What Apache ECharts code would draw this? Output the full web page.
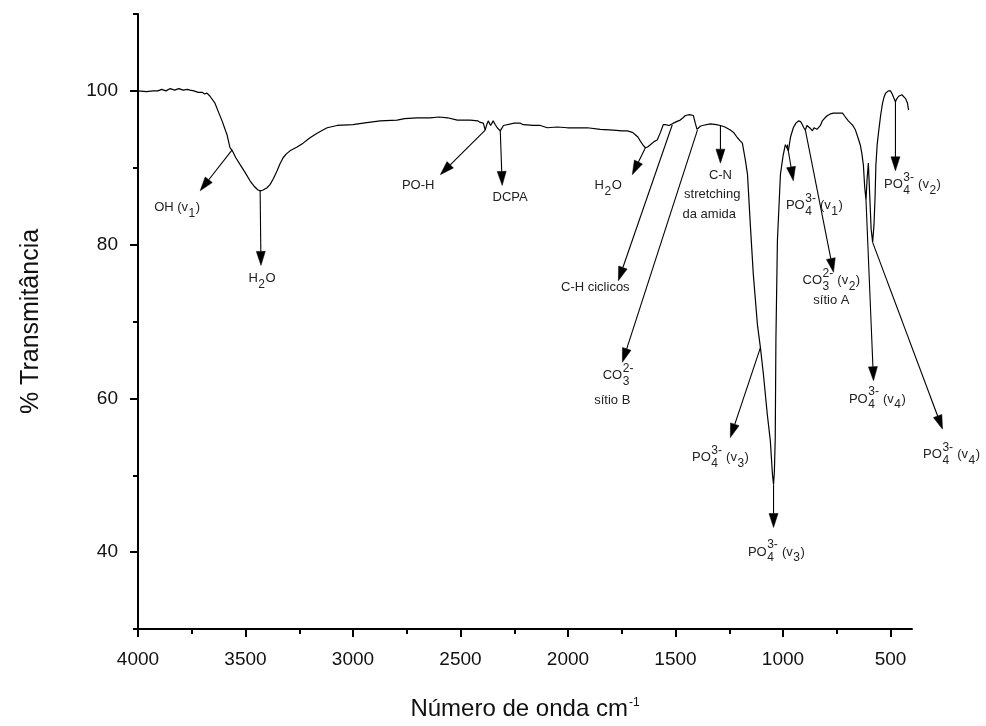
<!DOCTYPE html>
<html><head><meta charset="utf-8">
<script src="https://cdn.jsdelivr.net/npm/echarts@6/dist/echarts.min.js"></script>
<style>html,body{margin:0;padding:0;background:#fff}#c{width:986px;height:726px}</style>
</head><body><div id="c"></div>
<script>
// ---- data ----
const wavenumber = [4000,3960,3930,3907,3890,3870,3850,3830,3810,3790,3770,3758,3740,3720,3700,3690,3679,3665,3656,3642,3628,3609,3586,3572,3563,3545,3525,3500,3479,3460,3442,3430,3418,3400,3386,3370,3353,3340,3325,3310,3293,3260,3232,3200,3167,3140,3120,3074,3000,2953,2900,2874,2795,2760,2702,2641,2600,2560,2515,2455,2420,2408,2400,2394,2385,2378,2371,2360,2356,2348,2338,2329,2315,2300,2292,2250,2222,2208,2160,2129,2096,2050,2003,1960,1910,1850,1789,1750,1724,1700,1687,1675,1664,1650,1640,1630,1617,1600,1585,1570,1557,1547,1530,1510,1495,1478,1465,1454,1435,1417,1408,1400,1394,1385,1375,1338,1310,1291,1270,1245,1230,1212,1199,1189,1175,1165,1152,1138,1119,1105,1091,1073,1059,1049,1044,1040,1036,1033,1026,1012,1000,989,980,975,965,952,940,928,918,910,903,896,889,882,872,863,856,849,842,835,826,817,805,793,780,765,745,723,710,696,686,675,663,650,640,633,626,620,614,609,603,596,590,583,577,572,568,562,556,546,537,530,523,510,500,492,485,477,470,462,454,447,440,430,421,416];
const transmittance = [100.0,99.9,100.0,100.0,100.2,100.0,100.3,100.1,100.3,100.1,100.2,100.1,100.0,99.8,99.8,99.6,99.7,99.3,99.3,98.4,97.4,96.1,94.3,92.6,92.3,91.3,90.4,89.3,88.3,87.6,87.1,87.0,87.1,87.4,87.8,88.6,89.6,90.5,91.3,91.8,92.2,92.7,93.2,93.9,94.5,94.9,95.2,95.5,95.6,95.8,96.0,96.1,96.2,96.4,96.5,96.5,96.6,96.5,96.2,96.2,96.1,95.9,95.8,95.8,94.9,95.6,96.1,95.5,95.3,96.1,95.6,95.2,94.8,95.5,95.7,95.8,95.8,95.6,95.5,95.5,95.2,95.3,95.2,95.2,95.2,95.0,94.9,94.8,94.8,94.6,94.3,94.0,93.5,92.9,92.6,92.7,93.0,93.4,93.6,94.6,95.6,95.6,95.5,95.8,96.0,96.2,96.5,96.8,96.9,96.8,95.8,95.0,94.9,95.4,95.5,95.7,95.6,95.5,95.3,94.9,94.6,93.9,93.5,93.2,91.0,89.1,82.6,76.1,69.6,66.6,63.1,57.9,54.5,50.1,48.8,50.5,55.0,67.5,80.5,89.1,91.5,93.0,93.0,92.2,94.0,95.2,95.8,96.1,96.0,95.6,95.2,94.9,95.5,95.5,95.1,94.8,95.2,95.3,95.0,94.8,95.5,96.1,96.5,96.8,97.0,97.1,97.1,97.1,96.6,96.1,95.8,95.5,94.9,93.8,92.9,91.8,90.3,87.5,85.8,88.5,90.6,86.0,82.0,80.3,82.5,86.0,90.3,93.0,94.5,96.8,98.4,99.2,99.7,100.0,100.0,99.6,99.1,98.6,99.0,99.3,99.5,99.5,99.4,99.0,98.4,97.5];
const xTickValues = [4000,3500,3000,2500,2000,1500,1000,500];
const xMinorTicks = [3750,3250,2750,2250,1750,1250,750];
const yTickValues = [40,60,80,100];
const yMinorTicks = [30,50,70,90,110];

// annotation arrows: [from (wavenumber, %T), to (wavenumber, %T)]
const arrowFrom = [[3563,92.3],[3432,87.1],[2385,94.9],[2315,94.8],[1640,92.6],[1515,95.6],[1398,94.9],[1291,95.5],[1105,66.6],[1044,48.8],[980,93.0],[896,94.9],[477,98.6],[614,85.8],[583,80.3]];
const arrowTo   = [[3711,87.0],[3428,77.3],[2594,89.1],[2306,87.7],[1701,89.1],[1766,75.3],[1747,64.7],[1291,90.6],[1245,54.9],[1044,43.2],[952,88.3],[765,76.4],[477,89.6],[579,62.3],[258,56.0]];
// annotation labels: anchor (wavenumber, %T) and text parts ([sub, sup] pairs)
const labelAt = [[3818,84.8],[3423,75.6],[2697,87.7],[2269,86.1],[1813,87.7],[1873,74.4],[1766,63.0],[1794,59.7],[1291,89.0],[1329,86.5],[1343,83.9],[1291,52.3],[1031,40.0],[854,85.1],[775,75.3],[775,72.7],[398,87.8],[561,59.9],[216,52.7]];
const labelParts = [
  ['OH (v',['1',''],')'],
  ['H',['2',''],'O'],
  ['PO-H'],
  ['DCPA'],
  ['H',['2',''],'O'],
  ['C-H ciclicos'],
  ['CO',['3','2-']],
  ['sítio B'],
  ['C-N'],
  ['stretching'],
  ['da amida'],
  ['PO',['4','3-'],' (v',['3',''],')'],
  ['PO',['4','3-'],' (v',['3',''],')'],
  ['PO',['4','3-'],' (v',['1',''],')'],
  ['CO',['3','2-'],' (v',['2',''],')'],
  ['sítio A'],
  ['PO',['4','3-'],' (v',['2',''],')'],
  ['PO',['4','3-'],' (v',['4',''],')'],
  ['PO',['4','3-'],' (v',['4',''],')']
];

const FONT = '"Liberation Sans", Arial, sans-serif';
const chart = echarts.init(document.getElementById('c'), null, {renderer:'canvas'});
const seriesData = wavenumber.map((w,i)=>[w, transmittance[i]]);

chart.setOption({
  animation:false,
  backgroundColor:'#fff',
  grid:{left:138,right:74,top:14,bottom:95,containLabel:false},
  xAxis:[{
    type:'value', inverse:true, min:400, max:4000,
    axisLine:{show:true,onZero:false,lineStyle:{color:'#000',width:2}},
    axisTick:{show:true,inside:false,length:8,lineStyle:{color:'#000',width:2},customValues:xTickValues},
    axisLabel:{show:true,margin:21,color:'#111',fontSize:19,fontFamily:FONT,customValues:xTickValues,formatter:v=>String(v)},
    splitLine:{show:false},
    name:'Número de onda cm{s|-1}', nameLocation:'middle', nameGap:68,
    nameTextStyle:{color:'#111',fontSize:24,fontFamily:FONT,rich:{s:{fontSize:12,fontFamily:FONT,color:'#111',verticalAlign:'top',padding:[0,0,12,1]}}}
  },{
    type:'value', inverse:true, min:400, max:4000, position:'bottom',
    axisLine:{show:false},
    axisTick:{show:true,inside:false,length:5,lineStyle:{color:'#000',width:2},customValues:xMinorTicks},
    axisLabel:{show:false}, splitLine:{show:false}
  }],
  yAxis:[{
    type:'value', min:30, max:110, position:'left',
    axisLine:{show:true,onZero:false,lineStyle:{color:'#000',width:2}},
    axisTick:{show:true,inside:false,length:8,lineStyle:{color:'#000',width:2},customValues:yTickValues},
    axisLabel:{show:true,margin:20,color:'#111',fontSize:19,fontFamily:FONT,customValues:yTickValues,formatter:v=>String(v)},
    splitLine:{show:false},
    name:'% Transmitância', nameLocation:'middle', nameGap:94,
    nameTextStyle:{color:'#111',fontSize:25,fontFamily:FONT}
  },{
    type:'value', min:30, max:110, position:'left',
    axisLine:{show:false},
    axisTick:{show:true,inside:false,length:5,lineStyle:{color:'#000',width:2},customValues:yMinorTicks},
    axisLabel:{show:false}, splitLine:{show:false}
  }],
  series:[{
    type:'line', data:seriesData, xAxisIndex:0, yAxisIndex:0,
    symbol:'none', smooth:false,
    lineStyle:{color:'#000',width:1.2}
  }]
});

// ---- annotations (positioned through the chart's own scales) ----
const mctx = document.createElement('canvas').getContext('2d');
function tw(s,size){ mctx.font = size+'px '+FONT; return mctx.measureText(s).width; }
const MAIN=13, SMALL=12, COLOR='#222';
const toPx = p => chart.convertToPixel({xAxisIndex:0,yAxisIndex:0}, p);
const graphics = [];

arrowFrom.forEach((f,i)=>{
  const a = toPx(f), b = toPx(arrowTo[i]);
  const dx=b[0]-a[0], dy=b[1]-a[1], L=Math.hypot(dx,dy);
  const ux=dx/L, uy=dy/L, nx=-uy, ny=ux;
  const HL=14, HW=4.5;
  const bx=b[0]-ux*HL, by=b[1]-uy*HL;
  graphics.push({type:'line',silent:true,shape:{x1:a[0],y1:a[1],x2:bx,y2:by},style:{stroke:'#000',lineWidth:1.1}});
  graphics.push({type:'polygon',silent:true,shape:{points:[[b[0],b[1]],[bx+nx*HW,by+ny*HW],[bx-nx*HW,by-ny*HW]]},style:{fill:'#000',stroke:'#000',lineWidth:0.5}});
});

labelAt.forEach((p,i)=>{
  const c = toPx(p);
  const parts = labelParts[i];
  let total = 0;
  const widths = parts.map(pt => {
    const w = (typeof pt === 'string') ? tw(pt,MAIN) : Math.max(tw(pt[0],SMALL), tw(pt[1],SMALL)) + 1;
    total += w; return w;
  });
  let x = c[0] - total/2;
  parts.forEach((pt,k)=>{
    if (typeof pt === 'string') {
      graphics.push({type:'text',silent:true,x:x,y:c[1],style:{text:pt,fill:COLOR,font:MAIN+'px '+FONT,textAlign:'left',textVerticalAlign:'middle',verticalAlign:'middle'}});
    } else {
      if (pt[0]) graphics.push({type:'text',silent:true,x:x+0.5,y:c[1]+6,style:{text:pt[0],fill:COLOR,font:SMALL+'px '+FONT,textAlign:'left',textVerticalAlign:'middle',verticalAlign:'middle'}});
      if (pt[1]) graphics.push({type:'text',silent:true,x:x+0.5,y:c[1]-7,style:{text:pt[1],fill:COLOR,font:SMALL+'px '+FONT,textAlign:'left',textVerticalAlign:'middle',verticalAlign:'middle'}});
    }
    x += widths[k];
  });
});

chart.setOption({graphic:{elements:graphics}});
</script>
</body></html>
